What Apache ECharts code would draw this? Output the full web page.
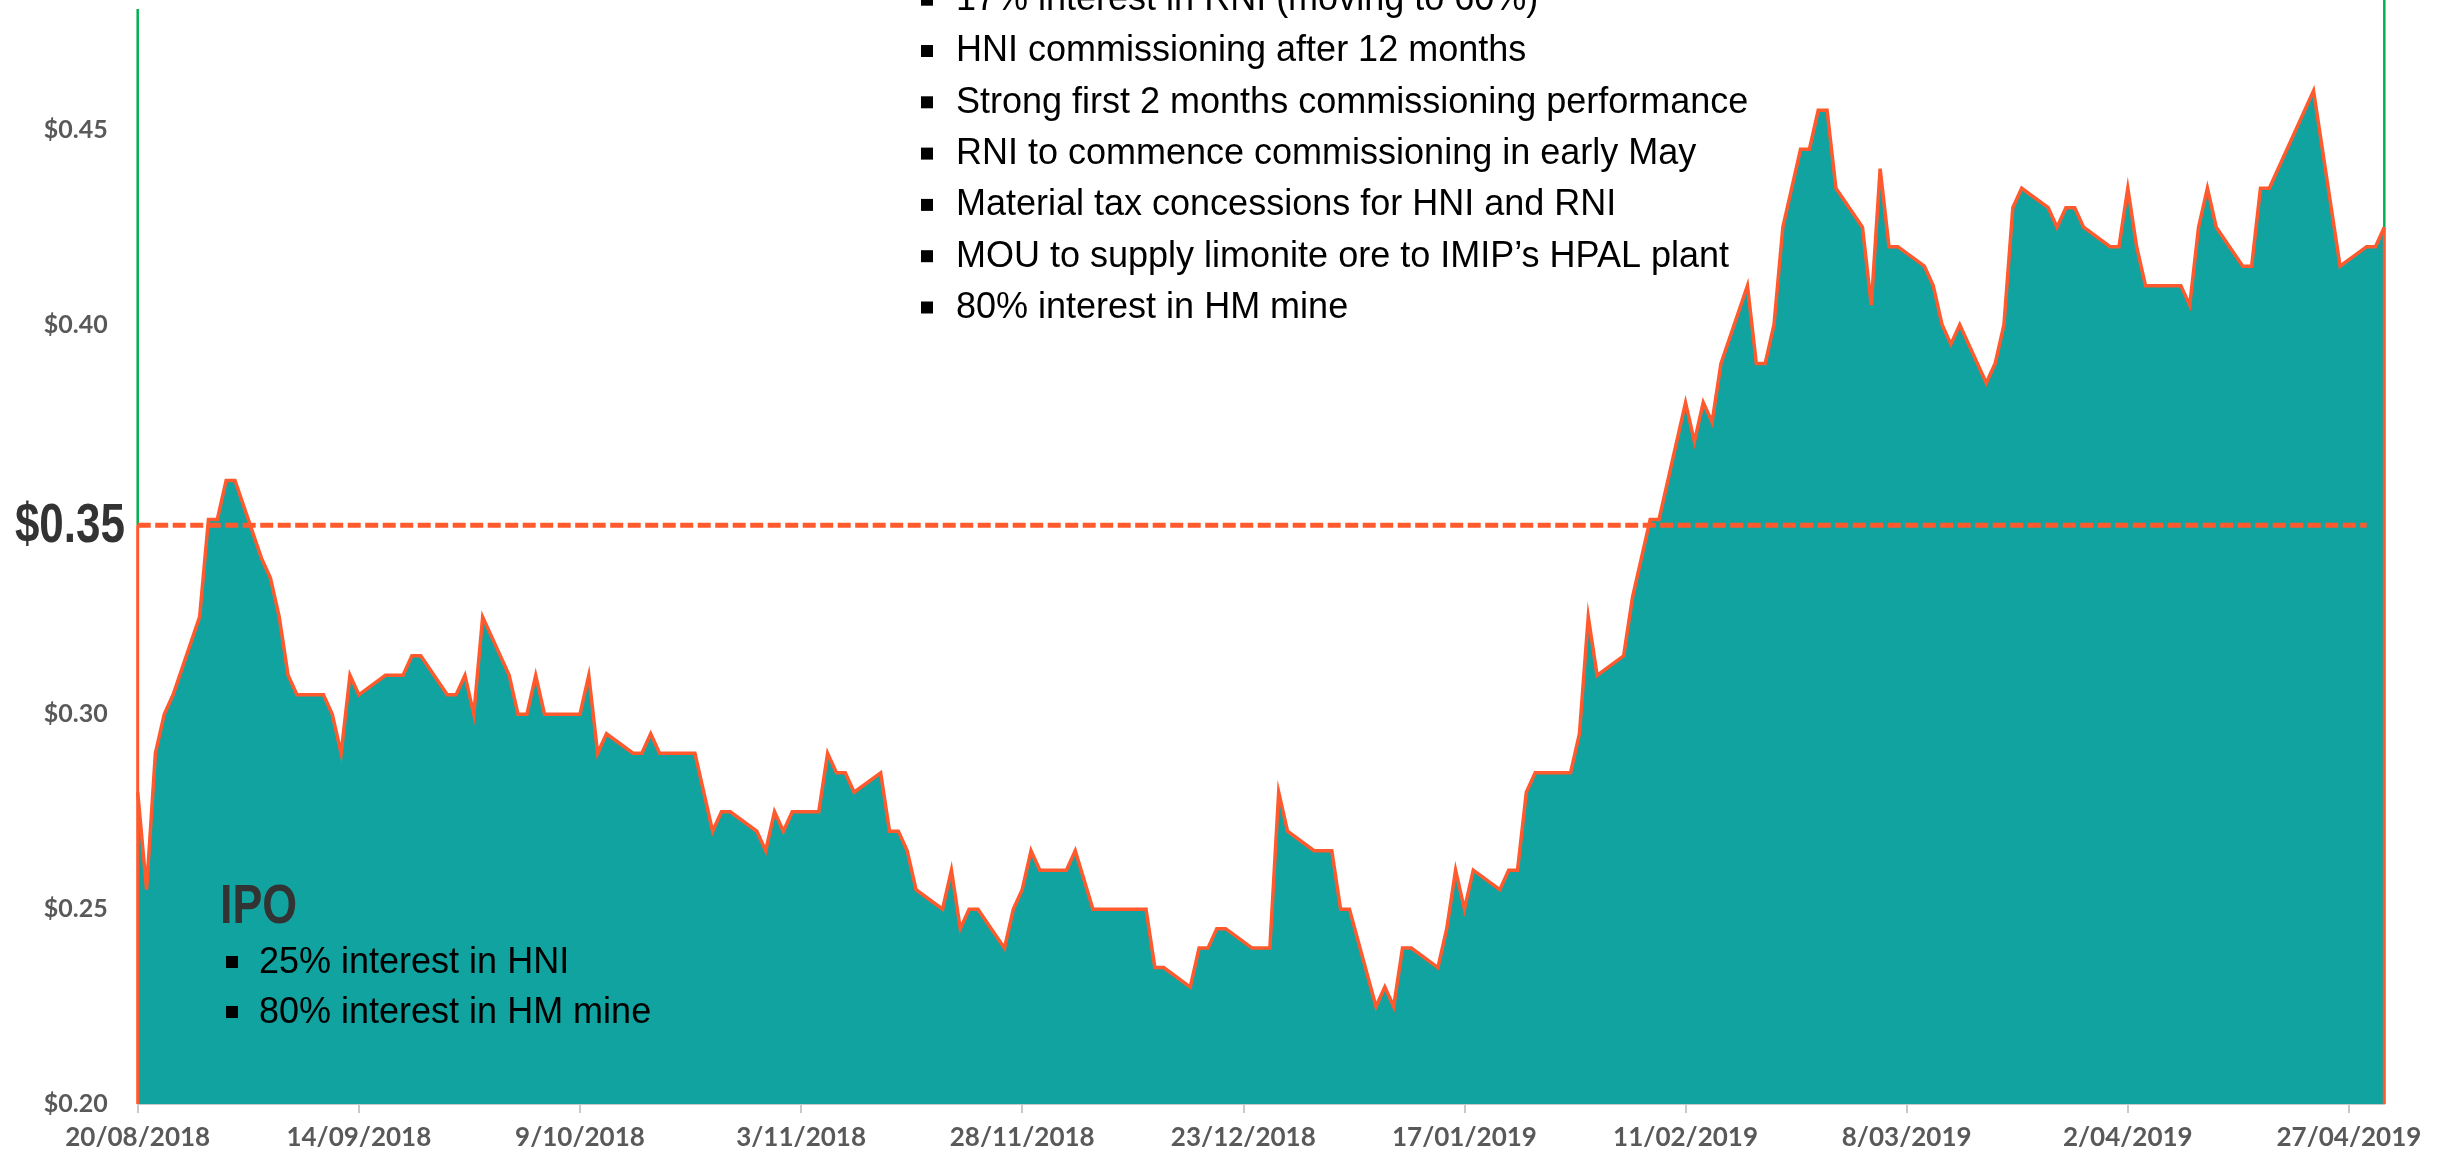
<!DOCTYPE html>
<html>
<head>
<meta charset="utf-8">
<title>Share price since IPO</title>
<script src="https://cdn.jsdelivr.net/npm/echarts@6/dist/echarts.min.js"></script>
<style>
  html, body { margin: 0; padding: 0; background: #fff; }
  #price-chart { width: 2453px; height: 1152px; }
</style>
</head>
<body>
<div id="price-chart"></div>
<script>
  // closing prices, turning points
  const tradeDates = [
    '2018-08-20', '2018-08-21', '2018-08-22', '2018-08-23', '2018-08-24', '2018-08-27', '2018-08-28', '2018-08-29',
    '2018-08-30', '2018-08-31', '2018-09-03', '2018-09-04', '2018-09-05', '2018-09-06', '2018-09-07', '2018-09-10',
    '2018-09-11', '2018-09-12', '2018-09-13', '2018-09-14', '2018-09-17', '2018-09-19', '2018-09-20', '2018-09-21',
    '2018-09-24', '2018-09-25', '2018-09-26', '2018-09-27', '2018-09-28', '2018-10-01', '2018-10-02', '2018-10-03',
    '2018-10-04', '2018-10-05', '2018-10-09', '2018-10-10', '2018-10-11', '2018-10-12', '2018-10-15', '2018-10-16',
    '2018-10-17', '2018-10-18', '2018-10-22', '2018-10-24', '2018-10-25', '2018-10-26', '2018-10-29', '2018-10-30',
    '2018-10-31', '2018-11-01', '2018-11-02', '2018-11-05', '2018-11-06', '2018-11-07', '2018-11-08', '2018-11-09',
    '2018-11-12', '2018-11-13', '2018-11-14', '2018-11-15', '2018-11-16', '2018-11-19', '2018-11-20', '2018-11-21',
    '2018-11-22', '2018-11-23', '2018-11-26', '2018-11-27', '2018-11-28', '2018-11-29', '2018-11-30', '2018-12-03',
    '2018-12-04', '2018-12-06', '2018-12-12', '2018-12-13', '2018-12-14', '2018-12-17', '2018-12-18', '2018-12-19',
    '2018-12-20', '2018-12-21', '2018-12-24', '2018-12-26', '2018-12-27', '2018-12-28', '2018-12-31', '2019-01-02',
    '2019-01-03', '2019-01-04', '2019-01-07', '2019-01-08', '2019-01-09', '2019-01-10', '2019-01-11', '2019-01-14',
    '2019-01-15', '2019-01-16', '2019-01-17', '2019-01-18', '2019-01-21', '2019-01-22', '2019-01-23', '2019-01-24',
    '2019-01-25', '2019-01-29', '2019-01-30', '2019-01-31', '2019-02-01', '2019-02-04', '2019-02-05', '2019-02-07',
    '2019-02-08', '2019-02-11', '2019-02-12', '2019-02-13', '2019-02-14', '2019-02-15', '2019-02-18', '2019-02-19',
    '2019-02-20', '2019-02-21', '2019-02-22', '2019-02-24', '2019-02-25', '2019-02-26', '2019-02-27', '2019-02-28',
    '2019-03-03', '2019-03-04', '2019-03-05', '2019-03-06', '2019-03-07', '2019-03-10', '2019-03-11', '2019-03-12',
    '2019-03-13', '2019-03-14', '2019-03-17', '2019-03-18', '2019-03-19', '2019-03-20', '2019-03-21', '2019-03-24',
    '2019-03-25', '2019-03-26', '2019-03-27', '2019-03-28', '2019-03-31', '2019-04-01', '2019-04-02', '2019-04-03',
    '2019-04-04', '2019-04-08', '2019-04-09', '2019-04-10', '2019-04-11', '2019-04-12', '2019-04-15', '2019-04-16',
    '2019-04-17', '2019-04-18', '2019-04-23', '2019-04-26', '2019-04-29', '2019-04-30', '2019-05-01'
  ];
  const closePrices = [
    0.28, 0.255, 0.29, 0.30, 0.305, 0.325, 0.35, 0.35,
    0.36, 0.36, 0.34, 0.335, 0.325, 0.31, 0.305, 0.305,
    0.30, 0.29, 0.31, 0.305, 0.31, 0.31, 0.315, 0.315,
    0.305, 0.305, 0.31, 0.30, 0.325, 0.31, 0.30, 0.30,
    0.31, 0.30, 0.30, 0.31, 0.29, 0.295, 0.29, 0.29,
    0.295, 0.29, 0.29, 0.27, 0.275, 0.275, 0.27, 0.265,
    0.275, 0.27, 0.275, 0.275, 0.29, 0.285, 0.285, 0.28,
    0.285, 0.27, 0.27, 0.265, 0.255, 0.25, 0.26, 0.245,
    0.25, 0.25, 0.24, 0.25, 0.255, 0.265, 0.26, 0.26,
    0.265, 0.25, 0.25, 0.235, 0.235, 0.23, 0.24, 0.24,
    0.245, 0.245, 0.24, 0.24, 0.28, 0.27, 0.265, 0.265,
    0.25, 0.25, 0.225, 0.23, 0.225, 0.24, 0.24, 0.235,
    0.245, 0.26, 0.25, 0.26, 0.255, 0.26, 0.26, 0.28,
    0.285, 0.285, 0.295, 0.325, 0.31, 0.315, 0.33, 0.35,
    0.35, 0.38, 0.37, 0.38, 0.375, 0.39, 0.41, 0.39,
    0.39, 0.40, 0.425, 0.445, 0.445, 0.455, 0.455, 0.435,
    0.425, 0.405, 0.44, 0.42, 0.42, 0.415, 0.41, 0.40,
    0.395, 0.40, 0.385, 0.39, 0.40, 0.43, 0.435, 0.43,
    0.425, 0.43, 0.43, 0.425, 0.42, 0.42, 0.435, 0.42,
    0.41, 0.41, 0.405, 0.425, 0.435, 0.425, 0.415, 0.415,
    0.435, 0.435, 0.46, 0.415, 0.42, 0.42, 0.425
  ];
  const yTickValues = [0.20, 0.25, 0.30, 0.40, 0.45];
  const referencePrice = 0.3485;   // dashed "$0.35" line
  const referenceEndDate = '2019-04-29';
  const newsPoints = [
    '17% interest in RNI (moving to 60%)',
    'HNI commissioning after 12 months',
    'Strong first 2 months commissioning performance',
    'RNI to commence commissioning in early May',
    'Material tax concessions for HNI and RNI',
    'MOU to supply limonite ore to IMIP\u2019s HPAL plant',
    '80% interest in HM mine'
  ];
  const ipoPoints = ['25% interest in HNI', '80% interest in HM mine'];

  const RED = '#FF5A2E';
  const TEAL = '#11A39F';
  const GREEN = '#00B050';
  const DAY = 86400000;
  const START = Date.UTC(2018, 7, 20);
  const dayOffset = s => {
    const p = s.split('-').map(Number);
    return Math.round((Date.UTC(p[0], p[1] - 1, p[2]) - START) / DAY);
  };
  const fmtDate = v => {
    const d = new Date(START + v * DAY);
    const mm = String(d.getUTCMonth() + 1).padStart(2, '0');
    return d.getUTCDate() + '/' + mm + '/' + d.getUTCFullYear();
  };

  const seriesData = tradeDates.map((d, i) => [dayOffset(d), closePrices[i]]);
  const lastX = seriesData[seriesData.length - 1][0];
  const lastY = seriesData[seriesData.length - 1][1];
  const Y_MIN = 0.2, Y_MAX = 0.4833;

  const bodyFont = '"Liberation Sans", Arial, sans-serif';

  const graphics = [];
  newsPoints.forEach((t, i) => {
    const base = 12.7 + i * 51.3;
    graphics.push({ type: 'rect', z: 100, shape: { x: 921, y: base - 19, width: 12, height: 12 }, style: { fill: '#000' } });
    graphics.push({ type: 'text', z: 100, style: { text: t, x: 956, y: base - 12.6, textVerticalAlign: 'middle',
      fontSize: 36, fontFamily: bodyFont, fill: '#000' } });
  });
  // heavy condensed headings: bold sans squeezed horizontally
  graphics.push({ type: 'text', z: 100, x: 220, y: 908, scaleX: 0.8, style: { text: 'IPO', x: 0, y: 0,
    textVerticalAlign: 'middle', fontSize: 56, fontWeight: 'bold', fontFamily: bodyFont, fill: '#333333' } });
  graphics.push({ type: 'text', z: 100, x: 125, y: 527, scaleX: 0.8, style: { text: '$0.35', x: 0, y: 0,
    textAlign: 'right', textVerticalAlign: 'middle', fontSize: 55, fontWeight: 'bold', fontFamily: bodyFont, fill: '#333333' } });
  ipoPoints.forEach((t, i) => {
    const base = 976 + i * 50;
    graphics.push({ type: 'rect', z: 100, shape: { x: 226, y: base - 20, width: 12, height: 12 }, style: { fill: '#000' } });
    graphics.push({ type: 'text', z: 100, style: { text: t, x: 259, y: base - 12.6, textVerticalAlign: 'middle',
      fontSize: 36, fontFamily: bodyFont, fill: '#000' } });
  });

  // straight reference segments drawn as small line series
  const segment = (pts, style, z) => ({
    type: 'line', data: pts, symbol: 'none', silent: true, z: z,
    lineStyle: style, clip: false
  });

  const chart = echarts.init(document.getElementById('price-chart'));
  const option = {
    animation: false,
    grid: { left: 137.7, right: 68.7, top: 0, bottom: 48, containLabel: false },
    xAxis: {
      type: 'value',
      min: 0,
      max: lastX,
      interval: 25,
      splitLine: { show: false },
      axisLine: { show: true, lineStyle: { color: '#c9c9c9', width: 2 } },
      axisTick: { show: true, length: 9, lineStyle: { color: '#c9c9c9', width: 2 } },
      axisLabel: {
        showMaxLabel: false,
        margin: 21,
        formatter: v => (v % 25 === 0 ? fmtDate(v) : ''),
        color: '#595959', fontSize: 26, fontWeight: 'bold', fontFamily: 'Lato, sans-serif'
      }
    },
    yAxis: {
      type: 'value',
      min: Y_MIN,
      max: Y_MAX,
      interval: 0.05,
      splitLine: { show: false },
      axisLine: { show: false },
      axisTick: { show: false },
      axisLabel: {
        margin: 30,
        formatter: v => (yTickValues.some(t => Math.abs(t - v) < 1e-6) ? '$' + v.toFixed(2) : ''),
        color: '#595959', fontSize: 25, fontWeight: 'bold', fontFamily: 'Lato, sans-serif'
      }
    },
    series: [
      {
        type: 'line',
        data: seriesData,
        symbol: 'none',
        z: 2,
        lineStyle: { color: RED, width: 3.5, join: 'miter' },
        areaStyle: { color: TEAL, opacity: 1 }
      },
      segment([[0, referencePrice], [dayOffset(referenceEndDate), referencePrice]],
        { color: RED, width: 5, type: [13, 4.5] }, 4),
      segment([[0, Y_MIN], [0, referencePrice]], { color: RED, width: 3 }, 3),
      segment([[0, referencePrice], [0, 0.481]], { color: GREEN, width: 2.5 }, 3),
      segment([[lastX, lastY], [lastX, Y_MAX]], { color: GREEN, width: 2.5 }, 3),
      segment([[lastX, Y_MIN], [lastX, lastY]], { color: RED, width: 3 }, 3)
    ],
    graphic: graphics
  };
  chart.setOption(option);
</script>
</body>
</html>
